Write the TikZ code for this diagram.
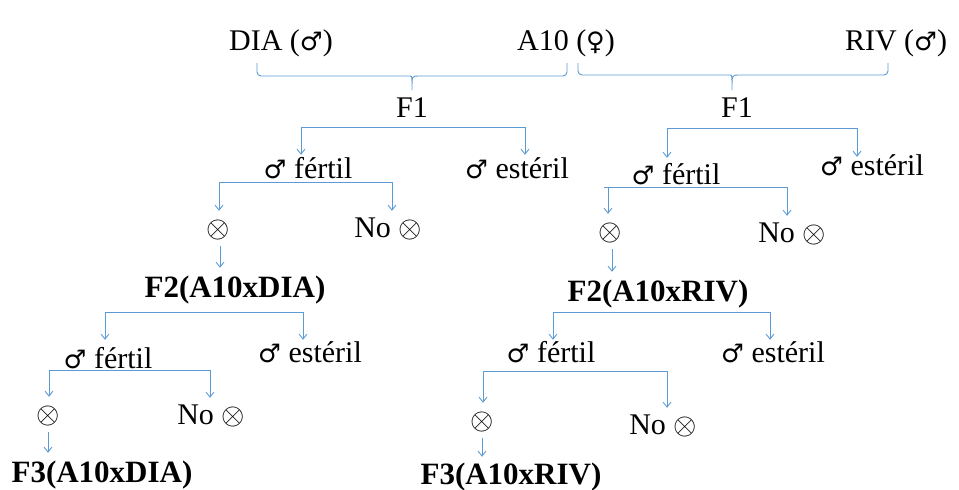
\documentclass[tikz,border=0pt]{standalone}
\usepackage{fix-cm}
\usepackage{fontspec}
\setmainfont{Liberation Serif}
\newfontfamily\symf{DejaVu Sans}[Scale=0.85]
\newcommand\mmale{{\symf ♂}}
\newcommand\ffemale{{\symf ♀}}
\newcommand\selfx{$\otimes$}
\usetikzlibrary{arrows.meta,calc}
\definecolor{lnk}{RGB}{91,155,213}
\begin{document}
\begin{tikzpicture}[x=1pt,y=-1pt,
  txt/.style={font=\fontsize{30}{36}\selectfont, inner sep=0pt, text height=20pt, text depth=6pt},
  btxt/.style={txt, font=\fontsize{31}{36}\selectfont\bfseries},
  bar/.style={draw=lnk, line width=0.9pt},
  arr/.style={draw=lnk, line width=0.9pt, -{Straight Barb[length=5pt,width=8pt]}, shorten >=3pt}]
\useasboundingbox (0,0) rectangle (959,490);
% parents
\node[txt] (dia) at (281,43) {DIA (\mmale)};
\node[txt] (a10) at (566,43) {A10 (\ffemale)};
\node[txt] (riv) at (896,43) {RIV (\mmale)};
\node[txt] (F1L) at (412,110) {F1};
\node[txt] (F1R) at (737,110) {F1};
% braces
\coordinate (bla) at (257,63); \coordinate (blb) at (567,63);
\coordinate (bra) at (578,63); \coordinate (brb) at (888,63);
\draw[bar] (bla) [rounded corners=4pt] -- (257,76) -- (406,76) [sharp corners] .. controls (412,76) .. (412,90) .. controls (412,76) .. (418,76) [rounded corners=4pt] -- (567,76) -- (blb);
\draw[bar] (bra) [rounded corners=4pt] -- (578,75) -- (726,75) [sharp corners] .. controls (732,75) .. (732,90) .. controls (732,75) .. (738,75) [rounded corners=4pt] -- (888,75) -- (brb);
% left F1 children
\node[txt] (fL) at (308,171) {\mmale\ fértil};
\node[txt] (eL) at (517,171) {\mmale\ estéril};
\coordinate (b1a) at (301,127); \coordinate (b1b) at (525,127);
\draw[bar] (b1a) -- (b1b);
\draw[arr] (b1a) -- (b1a |- fL.north);
\draw[arr] (b1b) -- (b1b |- eL.north);
\node[txt] (xL) at (218,230) {\selfx};
\node[txt] (noL) at (388,230) {No \selfx};
\coordinate (b2a) at (219,182); \coordinate (b2b) at (392,182);
\draw[bar] (b2a) -- (b2b);
\draw[arr, shorten >=6pt] (b2a) -- (b2a |- xL.north);
\draw[arr, shorten >=6pt] (b2b) -- (b2b |- noL.north);
\node[btxt] (F2L) at (235,290) {F2(A10xDIA)};
\coordinate (xLd) at ($(xL.south)+(2,0)$);
\draw[arr, shorten <=3pt, shorten >=9pt] (xLd) -- (xLd |- F2L.north);
% right F1 children
\node[txt] (fR) at (676,177) {\mmale\ fértil};
\node[txt] (eR) at (872,168) {\mmale\ estéril};
\coordinate (b3a) at (667,128); \coordinate (b3b) at (857,128);
\draw[bar] (b3a) -- (b3b);
\draw[arr, shorten >=6pt] (b3a) -- (b3a |- fR.north);
\draw[arr, shorten >=-2pt] (b3b) -- (b3b |- eR.north);
\node[txt] (xR) at (610,233) {\selfx};
\node[txt] (noR) at (792,235) {No \selfx};
\coordinate (b4a) at (604,187); \coordinate (b4b) at (787,187);
\coordinate (b4c) at (608,187);
\draw[bar] (b4a) -- (b4b);
\draw[arr, shorten >=6pt] (b4c) -- (b4c |- xR.north);
\draw[arr, shorten >=6pt] (b4b) -- (b4b |- noR.north);
\node[btxt] (F2R) at (658,294) {F2(A10xRIV)};
\coordinate (xRd) at ($(xR.south)+(2,0)$);
\draw[arr, shorten <=3pt, shorten >=9pt] (xRd) -- (xRd |- F2R.north);
% lower left
\node[txt] (fLL) at (108,361) {\mmale\ fértil};
\node[txt] (eLL) at (310,355) {\mmale\ estéril};
\coordinate (b5a) at (105,312); \coordinate (b5b) at (303,312);
\draw[bar] (b5a) -- (b5b);
\draw[arr, shorten >=8pt] (b5a) -- (b5a |- fLL.north);
\draw[arr, shorten >=2pt] (b5b) -- (b5b |- eLL.north);
\node[txt] (xLL) at (48,416) {\selfx};
\node[txt] (noLL) at (211,417) {No \selfx};
\coordinate (b6a) at (49,370); \coordinate (b6b) at (210,370);
\draw[bar] (b6a) -- (b6b);
\draw[arr, shorten >=6pt] (b6a) -- (b6a |- xLL.north);
\draw[arr, shorten >=6pt] (b6b) -- (b6b |- noLL.north);
\node[btxt] (F3L) at (102,475) {F3(A10xDIA)};
\draw[arr, shorten <=3pt, shorten >=9pt] (xLL.south) -- (xLL.south |- F3L.north);
% lower right
\node[txt] (fRR) at (551,355) {\mmale\ fértil};
\node[txt] (eRR) at (773,355) {\mmale\ estéril};
\coordinate (b7a) at (553,312); \coordinate (b7b) at (770,312);
\draw[bar] (b7a) -- (b7b);
\draw[arr, shorten >=2pt] (b7a) -- (b7a |- fRR.north);
\draw[arr, shorten >=2pt] (b7b) -- (b7b |- eRR.north);
\node[txt] (xRR) at (482,422) {\selfx};
\node[txt] (noRR) at (663,427) {No \selfx};
\coordinate (b8a) at (483,371); \coordinate (b8b) at (667,371);
\draw[bar] (b8a) -- (b8b);
\draw[arr, shorten >=6pt] (b8a) -- (b8a |- xRR.north);
\draw[arr, shorten >=6pt] (b8b) -- (b8b |- noRR.north);
\node[btxt] (F3R) at (511,477) {F3(A10xRIV)};
\draw[arr, shorten <=3pt, shorten >=7pt] (xRR.south) -- (xRR.south |- F3R.north);
\end{tikzpicture}
\end{document}
